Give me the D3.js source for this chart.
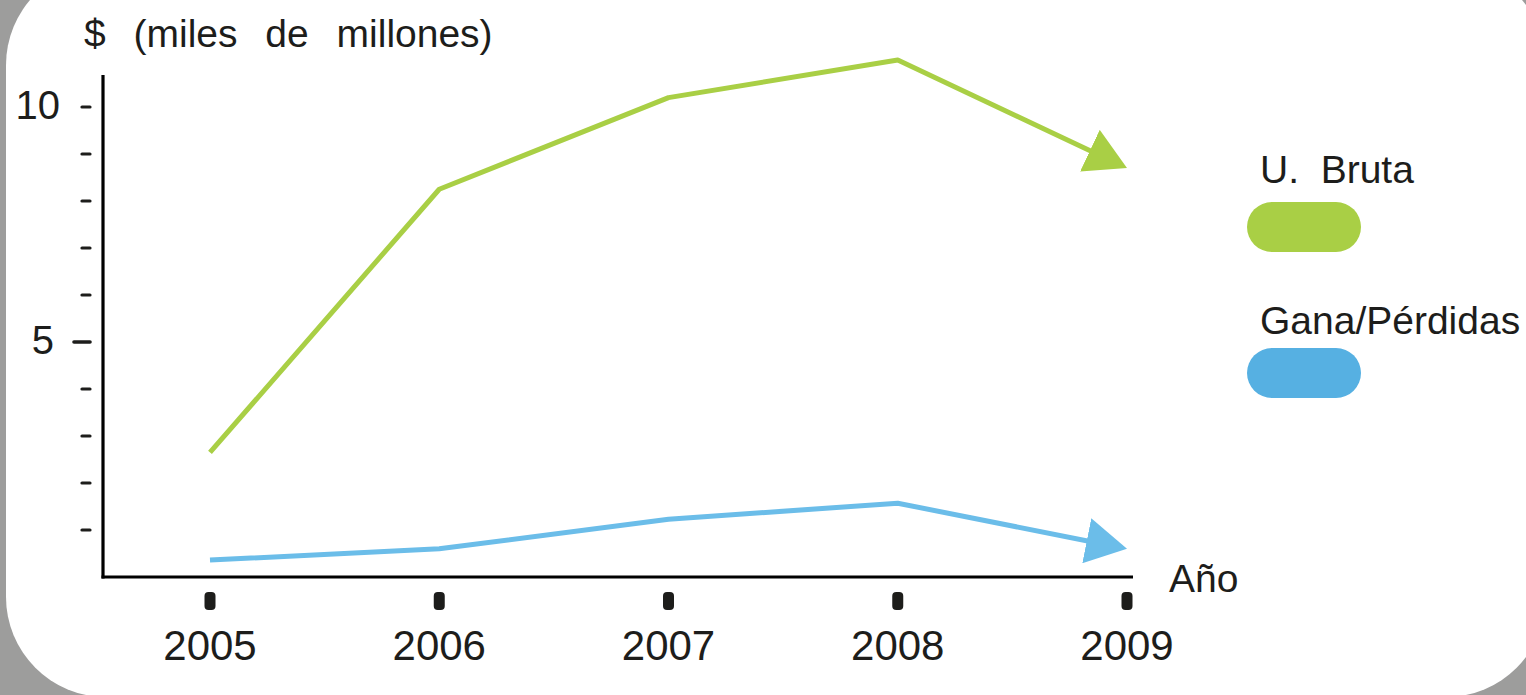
<!DOCTYPE html>
<html>
<head>
<meta charset="utf-8">
<script src="https://cdn.jsdelivr.net/npm/d3@7"></script>
<style>
  html, body { margin: 0; padding: 0; background: #9d9d9c; }
  svg { display: block; }
  text { font-family: "Liberation Sans", Arial, Helvetica, sans-serif; fill: #1d1d1b; }
</style>
</head>
<body>
<svg id="chart" width="1526" height="695"></svg>
<script>
// Years on the horizontal axis
const years = [2005, 2006, 2007, 2008, 2009];
// Values in thousands of millions of $
const utilidadBruta = [2.65, 8.25, 10.2, 11.0, 8.7];
const gananciaPerdida = [0.36, 0.6, 1.23, 1.57, 0.6];
// Vertical tick values and the ones that carry a label
const yTicks = [1, 2, 3, 4, 5, 6, 7, 8, 9, 10];
const yTickLabels = [5, 10];
const seriesNames = ["U.  Bruta", "Gana/Pérdidas"];

const W = 1526, H = 695;
const greenColor = "#a9cf45";
const blueLine = "#6bbde9";
const bluePill = "#56b0e2";

const svg = d3.select("#chart");

// White rounded card over the grey background
svg.append("rect")
  .attr("x", 6).attr("y", -35)
  .attr("width", 1540).attr("height", 732)
  .attr("rx", 100).attr("ry", 100)
  .attr("fill", "#ffffff");

const x = d3.scaleLinear().domain([2005, 2009]).range([210, 1127]);
const y = d3.scaleLinear().domain([0, 10]).range([577, 107]);

// Axis lines
svg.append("line")
  .attr("x1", 103).attr("x2", 103)
  .attr("y1", 75).attr("y2", y(0) + 1.5)
  .attr("stroke", "#000").attr("stroke-width", 3.2);
svg.append("line")
  .attr("x1", 101.5).attr("x2", 1133)
  .attr("y1", y(0)).attr("y2", y(0))
  .attr("stroke", "#000").attr("stroke-width", 3.2);

// Vertical axis ticks (detached dashes)
svg.append("g").selectAll("line")
  .data(yTicks)
  .join("line")
  .attr("x1", d => d === 5 ? 74 : 82)
  .attr("x2", 90)
  .attr("y1", d => y(d)).attr("y2", d => y(d))
  .attr("stroke", "#1d1d1b")
  .attr("stroke-width", d => d === 5 ? 3.6 : 3.2)
  .attr("stroke-linecap", "round");

svg.append("g").selectAll("text")
  .data(yTickLabels)
  .join("text")
  .attr("x", d => d === 10 ? 60 : 54)
  .attr("y", d => y(d) + 12)
  .attr("text-anchor", "end")
  .attr("font-size", 40)
  .text(d => d);

// Horizontal axis tick marks (rounded blocks below the axis)
svg.append("g").selectAll("rect")
  .data(years)
  .join("rect")
  .attr("x", d => x(d) - 5.5)
  .attr("y", 592)
  .attr("width", 11).attr("height", 18)
  .attr("rx", 4).attr("ry", 4)
  .attr("fill", "#1d1d1b");

svg.append("g").selectAll("text")
  .data(years)
  .join("text")
  .attr("x", d => x(d))
  .attr("y", 660)
  .attr("text-anchor", "middle")
  .attr("font-size", 42)
  .text(d => d);

// Axis titles
svg.append("text")
  .attr("x", 84).attr("y", 47)
  .attr("font-size", 39)
  .attr("word-spacing", 17)
  .text("$ (miles de millones)");

svg.append("text")
  .attr("x", 1169).attr("y", 592)
  .attr("font-size", 39)
  .text("Año");

// Arrowhead markers
const defs = svg.append("defs");
const headLen = 41, headHalf = 23, shorten = 12;
[["arrowGreen", greenColor], ["arrowBlue", blueLine]].forEach(([id, c]) => {
  defs.append("marker")
    .attr("id", id)
    .attr("markerUnits", "userSpaceOnUse")
    .attr("viewBox", `0 ${-headHalf} ${headLen} ${headHalf * 2}`)
    .attr("markerWidth", headLen)
    .attr("markerHeight", headHalf * 2)
    .attr("refX", headLen - shorten)
    .attr("refY", 0)
    .attr("orient", "auto")
    .append("path")
    .attr("d", `M0,${-headHalf}L${headLen},0L0,${headHalf}Z`)
    .attr("fill", c);
});

const line = d3.line();

function drawSeries(values, color, markerId) {
  const pts = years.map((yr, i) => [x(yr), y(values[i])]);
  // pull the last vertex back so the arrowhead tip lands on the final value
  const n = pts.length;
  const [ax, ay] = pts[n - 2], [bx, by] = pts[n - 1];
  const len = Math.hypot(bx - ax, by - ay);
  pts[n - 1] = [bx - (bx - ax) / len * shorten, by - (by - ay) / len * shorten];
  svg.append("path")
    .attr("d", line(pts))
    .attr("fill", "none")
    .attr("stroke", color)
    .attr("stroke-width", 5)
    .attr("stroke-linejoin", "round")
    .attr("marker-end", `url(#${markerId})`);
}

drawSeries(utilidadBruta, greenColor, "arrowGreen");
drawSeries(gananciaPerdida, blueLine, "arrowBlue");

// Legend
const legend = [
  { name: seriesNames[0], color: greenColor, textY: 183, pillY: 202 },
  { name: seriesNames[1], color: bluePill, textY: 334, pillY: 348 }
];
legend.forEach(d => {
  svg.append("text")
    .attr("x", 1260).attr("y", d.textY)
    .attr("font-size", 39)
    .attr("word-spacing", 0)
    .attr("xml:space", "preserve")
    .text(d.name);
  svg.append("rect")
    .attr("x", 1247).attr("y", d.pillY)
    .attr("width", 114).attr("height", 50)
    .attr("rx", 25).attr("ry", 25)
    .attr("fill", d.color);
});
</script>
</body>
</html>
